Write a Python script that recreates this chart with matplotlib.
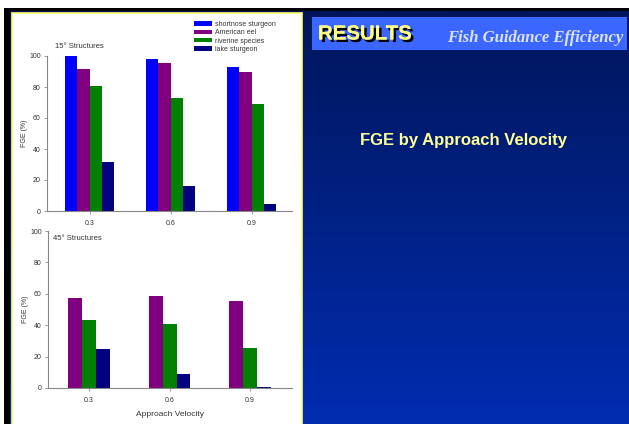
import numpy as np
import matplotlib
matplotlib.use('Agg')
import matplotlib.pyplot as plt
from matplotlib.patches import Rectangle
import matplotlib.patheffects as pe

plt.rcParams['font.family'] = ['Liberation Sans', 'DejaVu Sans']

velocity = ['0.3', '0.6', '0.9']
species = ['shortnose sturgeon', 'American eel', 'riverine species', 'lake sturgeon']
colors = ['#0000ff', '#800080', '#008000', '#000080']

# 15 degree structures
fge15_shortnose = [100, 98, 93]
fge15_eel = [91.6, 95.3, 89.5]
fge15_riverine = [80.6, 72.7, 68.8]
fge15_lake = [31.6, 16.1, 4.5]
# 45 degree structures (no shortnose data)
fge45_eel = [57.2, 58.7, 55.1]
fge45_riverine = [43.3, 40.7, 25.7]
fge45_lake = [25.1, 9.0, 0.6]

W, H = 629, 424
fig = plt.figure(figsize=(W / 100, H / 100), dpi=100)
fig.patch.set_facecolor('white')

# slide background drawn in pixel coordinates
bg = fig.add_axes([0, 0, 1, 1])
bg.set_xlim(0, W)
bg.set_ylim(H, 0)
bg.axis('off')
bg.set_zorder(0)
bg.add_patch(Rectangle((4, 8), W - 4, H - 8, color='black', lw=0))
top = np.array([0x00, 0x16, 0x5a]) / 255
bot = np.array([0x00, 0x2c, 0xb0]) / 255
t = np.linspace(0, 1, 200)[:, None, None]
grad = top * (1 - t) + bot * t
bg.imshow(grad, extent=[10, W, H, 11], aspect='auto', zorder=1)
bg.add_patch(Rectangle((11.5, 12.5), 290, H, facecolor='white',
                       edgecolor='#ffff66', lw=1.2, zorder=2))
bg.add_patch(Rectangle((312, 17), 315, 33, color='#3b66ff', lw=0, zorder=2))
bg.text(318, 34, 'RESULTS', color='#ffff80', fontsize=14.7, fontweight='bold',
        va='center', ha='left', zorder=3,
        path_effects=[pe.withSimplePatchShadow(offset=(1.8, -1.8), shadow_rgbFace='black', alpha=1),
                      pe.Normal()])
bg.text(447, 38, 'Fish Guidance Efficiency', color='#dce4f5', fontsize=12.0,
        family='Liberation Serif', fontweight='bold', style='italic',
        va='center', ha='left', zorder=3)
bg.text(464, 141, 'FGE by Approach Velocity', color='#ffff99', fontsize=12,
        fontweight='bold', va='center', ha='center', zorder=3)


def style_axes(ax):
    ax.set_facecolor('none')
    for s in ['top', 'right']:
        ax.spines[s].set_visible(False)
    for s in ['left', 'bottom']:
        ax.spines[s].set_color('#888888')
        ax.spines[s].set_linewidth(0.8)
    ax.set_ylim(0, 100)
    ax.set_yticks([0, 20, 40, 60, 80, 100])
    ax.tick_params(axis='both', labelsize=5, colors='#888888', labelcolor='#333333',
                   length=2.5, width=0.6, pad=2)
    ax.tick_params(axis='x', pad=4)
    ax.set_ylabel('FGE (%)', fontsize=5, color='#333333', labelpad=1)
    ax.set_xticks(range(len(velocity)))
    ax.set_xticklabels(velocity)


x = np.arange(len(velocity))

# top chart
ax1 = fig.add_axes([47 / W, 1 - 211 / H, 245 / W, 155 / H])
ax1.set_zorder(5)
w1 = 0.152
series15 = [fge15_shortnose, fge15_eel, fge15_riverine, fge15_lake]
for i, vals in enumerate(series15):
    ax1.bar(x + (i - 1.5) * w1, vals, width=w1, color=colors[i], label=species[i], lw=0)
ax1.set_xlim(-0.525, 2.5)
style_axes(ax1)
ax1.text(55, 47, '15° Structures', fontsize=5.5, color='#333333',
         transform=bg.transData, va='center', ha='left')

# bottom chart
ax2 = fig.add_axes([48 / W, 1 - 388 / H, 244 / W, 157 / H])
ax2.set_zorder(5)
w2 = 0.172
series45 = [fge45_eel, fge45_riverine, fge45_lake]
for i, vals in enumerate(series45):
    ax2.bar(x + (i - 1) * w2, vals, width=w2, color=colors[i + 1], lw=0)
ax2.set_xlim(-0.51, 2.52)
style_axes(ax2)
ax2.set_xlabel('Approach Velocity', fontsize=6, color='#333333', labelpad=5)
ax2.text(53, 239, '45° Structures', fontsize=5.5, color='#333333',
         transform=bg.transData, va='center', ha='left')

handles, labels = ax1.get_legend_handles_labels()
leg = fig.legend(handles, labels, loc='upper left',
                 bbox_to_anchor=(189 / W, 1 - 16 / H), frameon=False,
                 fontsize=5, handlelength=2.6, handleheight=0.6,
                 labelspacing=0.2, handletextpad=0.4, borderpad=0.2)
for txt in leg.get_texts():
    txt.set_color('#333333')
leg.set_zorder(10)

fig.savefig('out.png', dpi=100)
